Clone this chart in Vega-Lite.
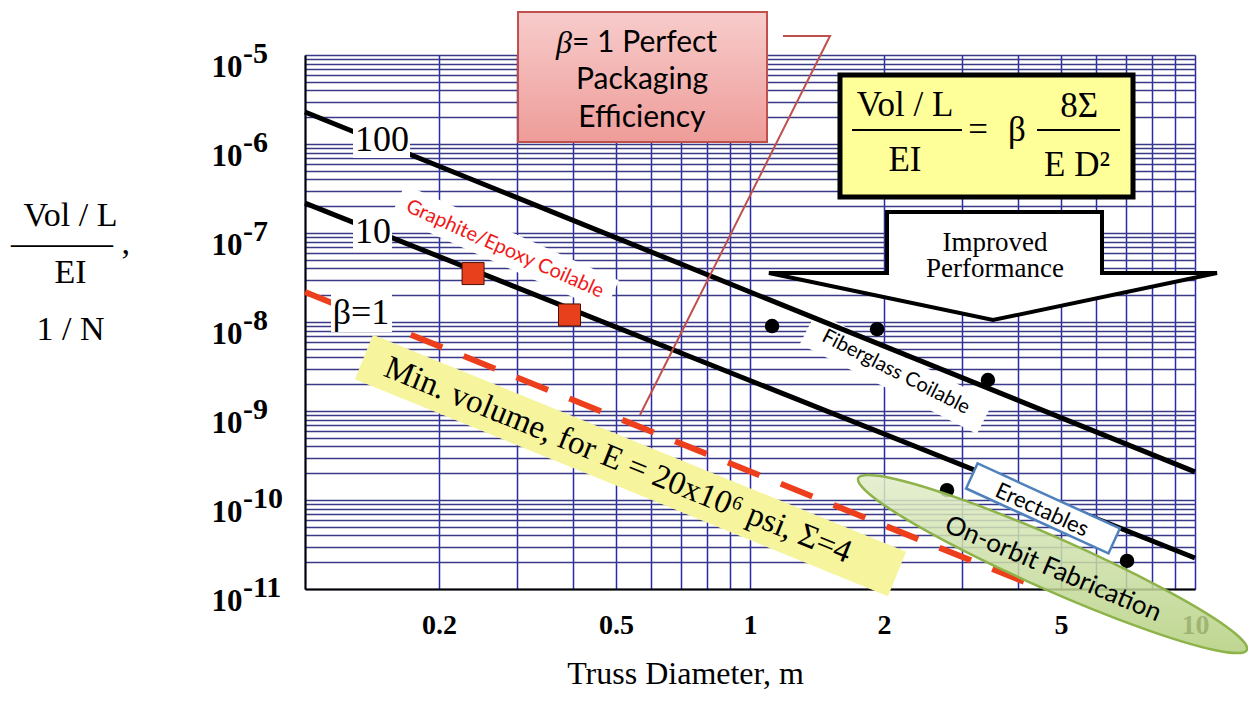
{
  "$schema": "https://vega.github.io/schema/vega-lite/v6.json",
  "width": 890,
  "height": 534,
  "autosize": {"type": "none"},
  "padding": {"left": 305, "top": 55, "right": 53, "bottom": 115},
  "background": "white",
  "config": {"view": {"stroke": null}},
  "encoding": {
    "x": {
      "field": "x", "type": "quantitative",
      "scale": {"type": "log", "domain": [0.1, 10], "nice": false},
      "axis": {
        "values": [0.1,0.2,0.3,0.4,0.5,0.6,0.7,0.8,0.9,1,2,3,4,5,6,7,8,9,10],
        "labelExpr": "indexof([0.2,0.5,1,2,5,10], datum.value) >= 0 ? format(datum.value, '~g') : ''",
        "grid": true, "gridColor": "#2a2aa8", "gridWidth": 1.5,
        "ticks": false, "tickSize": 0,
        "domainColor": "black", "domainWidth": 2,
        "labelFont": "Liberation Serif", "labelFontWeight": "bold", "labelFontSize": 28,
        "labelColor": "black", "labelPadding": 22, "labelFlush": false, "labelOverlap": false,
        "title": "Truss Diameter, m",
        "titleFont": "Liberation Serif", "titleFontWeight": "normal", "titleFontSize": 32,
        "titleColor": "black", "titleX": 380, "titleY": 94, "titleBaseline": "alphabetic",
        "titleAlign": "center",
        "zindex": 0
      }
    },
    "y": {
      "field": "y", "type": "quantitative",
      "scale": {"type": "log", "domain": [1e-11, 1e-5], "nice": false},
      "axis": {
        "values": [1e-11,2e-11,3e-11,4e-11,5e-11,6e-11,7e-11,8e-11,9e-11,
                   1e-10,2e-10,3e-10,4e-10,5e-10,6e-10,7e-10,8e-10,9e-10,
                   1e-9,2e-9,3e-9,4e-9,5e-9,6e-9,7e-9,8e-9,9e-9,
                   1e-8,2e-8,3e-8,4e-8,5e-8,6e-8,7e-8,8e-8,9e-8,
                   1e-7,2e-7,3e-7,4e-7,5e-7,6e-7,7e-7,8e-7,9e-7,
                   1e-6,2e-6,3e-6,4e-6,5e-6,6e-6,7e-6,8e-6,9e-6,1e-5],
        "labelExpr": "abs(log(datum.value)/LN10 - round(log(datum.value)/LN10)) < 0.01 ? '10' : ''",
        "grid": true, "gridColor": "#3a3a88", "gridWidth": 1.5,
        "ticks": false, "tickSize": 0,
        "domainColor": "black", "domainWidth": 2,
        "labelFont": "Liberation Serif", "labelFontWeight": "bold", "labelFontSize": 31,
        "labelColor": "black", "labelPadding": 63, "labelBaseline": "middle", "labelOffset": 12,
        "labelAlign": "right", "labelFlush": false, "labelOverlap": false,
        "title": ["Vol / L", "——— ,", "EI", "\u2800", "1 / N"],
        "titleFont": "Liberation Serif", "titleFontWeight": "normal", "titleFontSize": 34,
        "titleColor": "black", "titleAngle": 0, "titleAlign": "center", "titleBaseline": "alphabetic",
        "titleX": -235, "titleY": 170, "titleLineHeight": 28.5
      }
    }
  },
  "layer": [
    {
      "data": {"values": [
        {"x": 0.1, "y": 1e-5, "e": "-5"}, {"x": 0.1, "y": 1e-6, "e": "-6"}, {"x": 0.1, "y": 1e-7, "e": "-7"},
        {"x": 0.1, "y": 1e-8, "e": "-8"}, {"x": 0.1, "y": 1e-9, "e": "-9"}, {"x": 0.1, "y": 1e-10, "e": "-10"},
        {"x": 0.1, "y": 1e-11, "e": "-11"}
      ]},
      "mark": {"type": "text", "align": "left", "baseline": "middle", "dx": -62, "dy": -1, "font": "Liberation Serif", "fontWeight": "bold", "fontSize": 30, "color": "black"},
      "encoding": {"text": {"field": "e"}}
    },
    {
      "data": {"values": [{"x": 0.1357, "y": 4.05e-9}, {"x": 2.14, "y": 1.476e-11}]},
      "mark": {"type": "line", "color": "#f6f49c", "strokeWidth": 48, "strokeCap": "butt"},
      "encoding": {}
    },
    {
      "data": {"values": [{"x": 0.1618, "y": 2.35e-7}, {"x": 0.4896, "y": 1.96e-8}]},
      "mark": {"type": "line", "color": "white", "strokeWidth": 34, "strokeCap": "butt"},
      "encoding": {}
    },
    {
      "data": {"values": [{"x": 1.35, "y": 8.57e-9}, {"x": 3.374, "y": 8.34e-10}]},
      "mark": {"type": "line", "color": "white", "strokeWidth": 36, "strokeCap": "butt"},
      "encoding": {}
    },
    {
      "data": {"values": [
        {"s": "100", "x": 0.1, "y": 2.29e-6}, {"s": "100", "x": 10, "y": 2.07e-10},
        {"s": "10", "x": 0.1, "y": 2.17e-7}, {"s": "10", "x": 10, "y": 2.23e-11}
      ]},
      "mark": {"type": "line", "color": "black", "strokeWidth": 5},
      "encoding": {"detail": {"field": "s"}}
    },
    {
      "data": {"values": [{"x": 0.1, "y": 2.17e-8}, {"x": 4.415, "y": 1.053e-11}]},
      "mark": {"type": "line", "color": "#ee3f1c", "strokeWidth": 6, "strokeDash": [34, 23], "strokeCap": "butt"},
      "encoding": {}
    },
    {
      "data": {"values": [
        {"x": 0.1282, "x2": 0.1722, "y": 1.593e-6, "y2": 6.96e-7},
        {"x": 0.1282, "x2": 0.1569, "y": 1.512e-7, "y2": 6.44e-8},
        {"x": 0.1144, "x2": 0.1569, "y": 2.174e-8, "y2": 7.72e-9}
      ]},
      "mark": {"type": "rect", "color": "white"},
      "encoding": {"x2": {"field": "x2"}, "y2": {"field": "y2"}}
    },
    {
      "data": {"values": [
        {"x": 0.1489, "y": 1.109e-6, "t": "100"},
        {"x": 0.1422, "y": 1.026e-7, "t": "10"},
        {"x": 0.1336, "y": 1.262e-8, "t": "β=1"}
      ]},
      "mark": {"type": "text", "font": "Liberation Serif", "fontSize": 36, "color": "black", "align": "center", "baseline": "middle"},
      "encoding": {"text": {"field": "t"}}
    },
    {
      "data": {"values": [{"x": 0.2386, "y": 3.5e-8}, {"x": 0.393, "y": 1.2e-8}]},
      "mark": {"type": "point", "shape": "square", "filled": true, "size": 484, "fill": "#e8401c", "stroke": "#4a1000", "strokeWidth": 1, "opacity": 1},
      "encoding": {}
    },
    {
      "data": {"values": [
        {"x": 1.121, "y": 9.0e-9}, {"x": 1.93, "y": 8.3e-9}, {"x": 3.425, "y": 2.23e-9},
        {"x": 2.771, "y": 1.29e-10}, {"x": 7.035, "y": 2.07e-11}
      ]},
      "mark": {"type": "point", "shape": "circle", "filled": true, "size": 210, "color": "black", "opacity": 1},
      "encoding": {}
    },
    {
      "data": {"values": [
        {"i": 0, "x": 13.08, "y": 2.069e-12},
        {"i": 1, "x": 11.12, "y": 2.048e-12},
        {"i": 2, "x": 7.546, "y": 3.684e-12},
        {"i": 3, "x": 4.531, "y": 1.031e-11},
        {"i": 4, "x": 2.76, "y": 3.408e-11},
        {"i": 5, "x": 1.949, "y": 9.62e-11},
        {"i": 6, "x": 1.751, "y": 1.762e-10},
        {"i": 7, "x": 2.058, "y": 1.78e-10},
        {"i": 8, "x": 3.032, "y": 9.9e-11},
        {"i": 9, "x": 5.051, "y": 3.534e-11},
        {"i": 10, "x": 8.291, "y": 1.069e-11},
        {"i": 11, "x": 11.75, "y": 3.79e-12}
      ]},
      "mark": {"type": "line", "interpolate": "cardinal-closed", "stroke": "#8db34a", "strokeWidth": 2.5,
        "fill": {"gradient": "linear", "x1": 0, "y1": 0, "x2": 0, "y2": 1,
          "stops": [{"offset": 0, "color": "#e2edcb"}, {"offset": 1, "color": "#b3cf7d"}]},
        "fillOpacity": 0.85},
      "encoding": {"order": {"field": "i"}}
    },
    {
      "data": {"values": [{"x": 3.133, "y": 1.885e-10}, {"x": 6.622, "y": 3.42e-11}]},
      "mark": {"type": "line", "color": "#4f81bd", "strokeWidth": 30, "strokeCap": "butt"},
      "encoding": {}
    },
    {
      "data": {"values": [{"x": 3.171, "y": 1.837e-10}, {"x": 6.544, "y": 3.51e-11}]},
      "mark": {"type": "line", "color": "white", "strokeWidth": 25, "strokeCap": "butt"},
      "encoding": {}
    },
    {
      "data": {"values": [{"x": 1.593, "x2": 7.256, "y": 5.96e-6, "y2": 2.54e-7}]},
      "mark": {"type": "rect", "fill": "#ffff99", "stroke": "black", "strokeWidth": 5},
      "encoding": {"x2": {"field": "x2"}, "y2": {"field": "y2"}}
    },
    {
      "data": {"values": [{"x": 1.695, "x2": 2.995, "y": 1.437e-6}, {"x": 4.415, "x2": 6.785, "y": 1.437e-6}]},
      "mark": {"type": "rule", "color": "black", "strokeWidth": 2},
      "encoding": {"x2": {"field": "x2"}}
    },
    {
      "data": {"values": [
        {"x": 2.23, "y": 2.743e-6, "t": "Vol / L"},
        {"x": 2.23, "y": 6.61e-7, "t": "EI"},
        {"x": 3.254, "y": 1.437e-6, "t": "="},
        {"x": 3.981, "y": 1.437e-6, "t": "β"},
        {"x": 5.489, "y": 2.673e-6, "t": "8Σ"},
        {"x": 5.432, "y": 5.81e-7, "t": "E D²"}
      ]},
      "mark": {"type": "text", "font": "Liberation Serif", "fontSize": 35, "color": "black", "align": "center", "baseline": "middle"},
      "encoding": {"text": {"field": "t"}}
    },
    {
      "data": {"values": [
        {"i": 0, "x": 2.032, "y": 1.722e-7},
        {"i": 1, "x": 6.18, "y": 1.722e-7},
        {"i": 2, "x": 6.18, "y": 3.554e-8},
        {"i": 3, "x": 11.206, "y": 3.554e-8},
        {"i": 4, "x": 3.516, "y": 1.053e-8},
        {"i": 5, "x": 1.103, "y": 3.554e-8},
        {"i": 6, "x": 2.032, "y": 3.554e-8}
      ]},
      "mark": {"type": "line", "interpolate": "linear-closed", "stroke": "black", "strokeWidth": 4, "fill": "white", "strokeJoin": "miter"},
      "encoding": {"order": {"field": "i"}}
    },
    {
      "data": {"values": [
        {"x": 3.553, "y": 7.72e-8, "t": "Improved"},
        {"x": 3.553, "y": 3.94e-8, "t": "Performance"}
      ]},
      "mark": {"type": "text", "font": "Liberation Serif", "fontSize": 27, "color": "black", "align": "center", "baseline": "middle"},
      "encoding": {"text": {"field": "t"}}
    },
    {
      "data": {"values": [
        {"i": 0, "x": 1.186, "y": 1.634e-5},
        {"i": 1, "x": 1.513, "y": 1.634e-5},
        {"i": 2, "x": 0.5659, "y": 9.02e-10}
      ]},
      "mark": {"type": "line", "color": "#c0504d", "strokeWidth": 2},
      "encoding": {"order": {"field": "i"}}
    },
    {
      "data": {"values": [{"x": 0.3011, "x2": 1.092, "y": 3.042e-5, "y2": 1.053e-6}]},
      "mark": {"type": "rect", "stroke": "#c0504d", "strokeWidth": 2,
        "fill": {"gradient": "linear", "x1": 0, "y1": 0, "x2": 0, "y2": 1,
          "stops": [{"offset": 0, "color": "#f7cccb"}, {"offset": 1, "color": "#ee9c99"}]}},
      "encoding": {"x2": {"field": "x2"}, "y2": {"field": "y2"}}
    },
    {
      "data": {"values": [{"x": 0.3981, "y": 1.364e-5, "t": "β"}]},
      "mark": {"type": "text", "font": "Liberation Serif", "fontStyle": "italic", "fontSize": 32, "color": "black", "align": "right", "baseline": "middle"},
      "encoding": {"text": {"field": "t"}}
    },
    {
      "data": {"values": [
        {"x": 0.3981, "y": 1.364e-5, "t": "= 1 Perfect"}
      ]},
      "mark": {"type": "text", "font": "Lato", "fontSize": 30, "color": "black", "align": "left", "baseline": "middle"},
      "encoding": {"text": {"field": "t"}}
    },
    {
      "data": {"values": [
        {"x": 0.5718, "y": 5.24e-6, "t": "Packaging"},
        {"x": 0.5718, "y": 1.959e-6, "t": "Efficiency"}
      ]},
      "mark": {"type": "text", "font": "Lato", "fontSize": 30, "color": "black", "align": "center", "baseline": "middle"},
      "encoding": {"text": {"field": "t"}}
    },
    {
      "data": {"values": [{"x": 0.2813, "y": 6.6e-8, "t": "Graphite/Epoxy Coilable"}]},
      "mark": {"type": "text", "font": "Lato", "fontSize": 20, "color": "#f01818", "angle": 24, "align": "center", "baseline": "middle"},
      "encoding": {"text": {"field": "t"}}
    },
    {
      "data": {"values": [{"x": 2.128, "y": 2.74e-9, "t": "Fiberglass Coilable"}]},
      "mark": {"type": "text", "font": "Lato", "fontSize": 20, "color": "black", "angle": 27, "align": "center", "baseline": "middle"},
      "encoding": {"text": {"field": "t"}}
    },
    {
      "data": {"values": [{"x": 0.5052, "y": 2.81e-10, "t": "Min. volume,  for E = 20x10⁶ psi, Σ=4"}]},
      "mark": {"type": "text", "font": "Liberation Serif", "fontSize": 33, "color": "black", "angle": 22, "align": "center", "baseline": "middle"},
      "encoding": {"text": {"field": "t"}}
    },
    {
      "data": {"values": [{"x": 4.531, "y": 7.72e-11, "t": "Erectables"}]},
      "mark": {"type": "text", "font": "Lato", "fontSize": 22, "color": "black", "angle": 24.6, "align": "center", "baseline": "middle"},
      "encoding": {"text": {"field": "t"}}
    },
    {
      "data": {"values": [{"x": 4.797, "y": 1.678e-11, "t": "On-orbit Fabrication"}]},
      "mark": {"type": "text", "font": "Lato", "fontSize": 26, "color": "black", "angle": 23, "align": "center", "baseline": "middle"},
      "encoding": {"text": {"field": "t"}}
    }
  ]
}
